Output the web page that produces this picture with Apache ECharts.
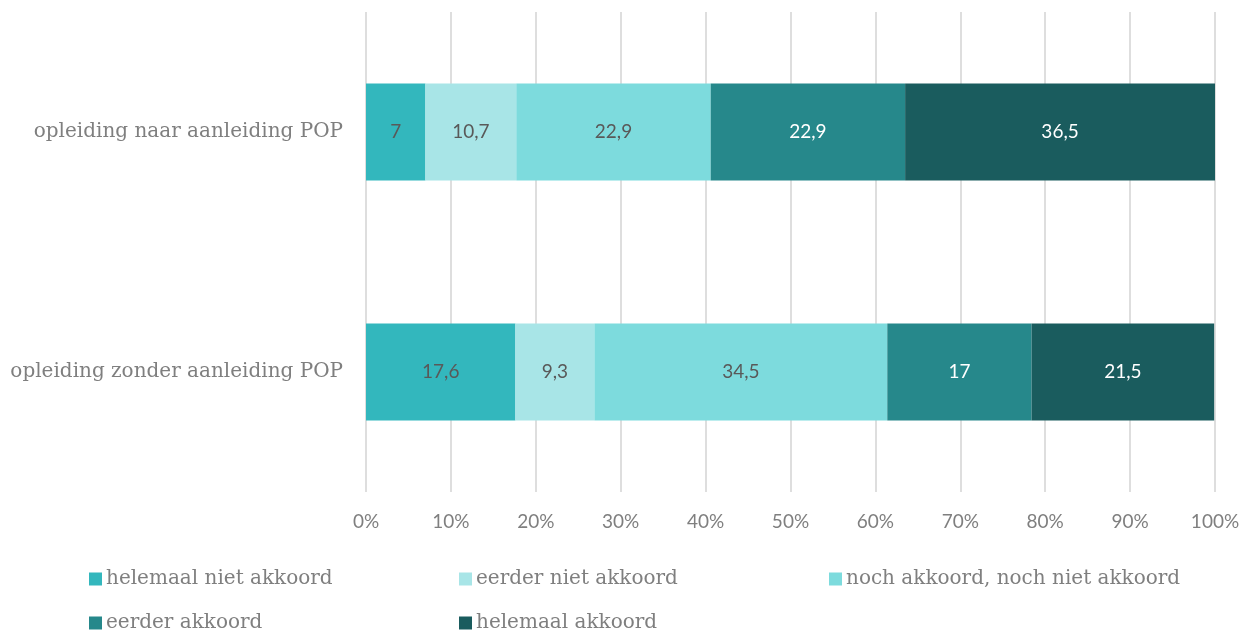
<!DOCTYPE html>
<html><head><meta charset="utf-8">
<script src="https://cdn.jsdelivr.net/npm/echarts@6/dist/echarts.min.js"></script>
<style>html,body{margin:0;padding:0;background:#fff}#c{width:1251px;height:631px}</style>
</head><body><div id="c"></div>
<script>
const categories = ["opleiding zonder aanleiding POP", "opleiding naar aanleiding POP"];
const seriesNames = ["helemaal niet akkoord", "eerder niet akkoord", "noch akkoord, noch niet akkoord", "eerder akkoord", "helemaal akkoord"];
const helemaalNiet = [17.6, 7];
const eerderNiet = [9.3, 10.7];
const noch = [34.5, 22.9];
const eerderAkkoord = [17, 22.9];
const helemaalAkkoord = [21.5, 36.5];
const tickLabels = ["0%","10%","20%","30%","40%","50%","60%","70%","80%","90%","100%"];

const colors = ["#33B7BD", "#A8E5E7", "#7DDBDD", "#26888B", "#1A5C5E"];
const labelColors = ["#595959", "#595959", "#595959", "#ffffff", "#ffffff"];
const values = [helemaalNiet, eerderNiet, noch, eerderAkkoord, helemaalAkkoord];
const serifFont = "'DejaVu Serif', 'Liberation Serif', serif";
const sansFont = "Lato, 'Open Sans', sans-serif";

const series = seriesNames.map((name, i) => ({
  name, type: 'bar', stack: 'all', barWidth: 97,
  itemStyle: { color: colors[i] },
  label: { show: true, position: 'inside', color: labelColors[i], fontFamily: sansFont, fontSize: 19,
    formatter: p => String(p.value).replace('.', ',') },
  emphasis: { disabled: true },
  data: values[i]
}));

const legendPos = [[84, 564], [454, 564], [824, 564], [84, 608], [454, 608]];
const legends = seriesNames.map((n, i) => ({
  data: [n], left: legendPos[i][0], top: legendPos[i][1], itemWidth: 13, itemHeight: 13, itemGap: 0,
  icon: 'rect', selectedMode: false,
  textStyle: { fontFamily: serifFont, fontSize: 20, color: '#7f7f7f', padding: [0, 0, 0, -1] }
}));

const chart = echarts.init(document.getElementById('c'), null, { renderer: 'canvas' });
chart.setOption({
  animation: false,
  grid: { left: 366, right: 36, top: 12, bottom: 139, containLabel: false },
  legend: legends,
  xAxis: {
    type: 'value', min: 0, max: 100, interval: 10,
    axisLine: { show: false }, axisTick: { show: false },
    splitLine: { show: true, lineStyle: { color: '#dedede', width: 2 } },
    axisLabel: { margin: 20, color: '#7f7f7f', fontFamily: sansFont, fontSize: 19,
      formatter: v => tickLabels[Math.round(v / 10)] }
  },
  yAxis: {
    type: 'category', data: categories,
    axisLine: { show: false }, axisTick: { show: false },
    axisLabel: { margin: 23, color: '#7f7f7f', fontFamily: serifFont, fontSize: 20 }
  },
  series
});
</script></body></html>
